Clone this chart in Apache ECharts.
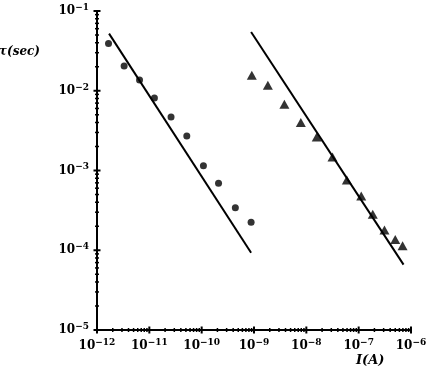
<!DOCTYPE html>
<html>
<head>
<meta charset="utf-8">
<script src="https://cdn.jsdelivr.net/npm/echarts@6/dist/echarts.min.js"></script>
<style>
  html, body { margin: 0; padding: 0; background: #fff; }
  #chart { width: 426px; height: 372px; }
</style>
</head>
<body>
<div id="chart"></div>
<script>
// measured points (circles), I in A, tau in sec
const currentA = [1.66e-12, 3.3e-12, 6.5e-12, 1.25e-11, 2.6e-11, 5.2e-11, 1.08e-10, 2.1e-10, 4.4e-10, 8.8e-10];
const tauA = [0.039, 0.0204, 0.0136, 0.0081, 0.0047, 0.0027, 0.00115, 0.00069, 0.00034, 0.000224];

// measured points (triangles)
const currentB = [9.08e-10, 1.84e-9, 3.81e-9, 7.85e-9, 1.58e-8, 3.16e-8, 5.94e-8, 1.12e-7, 1.86e-7, 3.11e-7, 5.0e-7, 6.9e-7];
const tauB = [0.0156, 0.0117, 0.00678, 0.0040, 0.00264, 0.00148, 0.00076, 0.00048, 0.000282, 0.000179, 0.000136, 0.000114];

// straight fit lines (end points)
const fitCurrentA = [1.7e-12, 8.8e-10];
const fitTauA = [0.052, 9.3e-5];
const fitCurrentB = [8.8e-10, 7.2e-7];
const fitTauB = [0.0546, 6.6e-5];

// axis ranges (decades)
const xDecades = [-12, -11, -10, -9, -8, -7, -6];
const yDecades = [-5, -4, -3, -2, -1];

const xMin = Math.pow(10, xDecades[0]);
const xMax = Math.pow(10, xDecades[xDecades.length - 1]);
const yMin = Math.pow(10, yDecades[0]);
const yMax = Math.pow(10, yDecades[yDecades.length - 1]);

// tick marks on log axes: [x, y, major, isY]
const ticks = [];
xDecades.forEach((d, i) => {
  ticks.push([Math.pow(10, d), yMin, 1, 0]);
  if (i < xDecades.length - 1) {
    for (let k = 2; k <= 9; k++) ticks.push([k * Math.pow(10, d), yMin, 0, 0]);
  }
});
yDecades.forEach((d, i) => {
  ticks.push([xMin, Math.pow(10, d), 1, 1]);
  if (i < yDecades.length - 1) {
    for (let k = 2; k <= 9; k++) ticks.push([xMin, k * Math.pow(10, d), 0, 1]);
  }
});

const zip = (a, b) => a.map((v, i) => [v, b[i]]);

const font = 'DejaVu Serif';

function powLabel(value) {
  const e = Math.round(Math.log10(value));
  return '{b|10}{s|' + (e < 0 ? '\u2212' + (-e) : e) + '}';
}

const labelRich = {
  b: { fontFamily: font, fontWeight: 'bold', fontSize: 12, color: '#000' },
  s: { fontFamily: font, fontWeight: 'bold', fontSize: 9, color: '#000', verticalAlign: 'bottom', padding: [0, 0, 7, 0] }
};

function renderTick(params, api) {
  const p = api.coord([api.value(0), api.value(1)]);
  const major = api.value(2) === 1;
  const len = major ? 3.5 : 2;
  const shape = api.value(3) === 1
    ? { x1: p[0] - len, y1: p[1], x2: p[0] + len, y2: p[1] }
    : { x1: p[0], y1: p[1] - len, x2: p[0], y2: p[1] + len };
  return { type: 'line', shape: shape, style: { stroke: '#000', lineWidth: major ? 2 : 1.5 } };
}

const chart = echarts.init(document.getElementById('chart'));

const option = {
  animation: false,
  backgroundColor: '#fff',
  grid: { left: 97, right: 15, top: 11, bottom: 42, containLabel: false, outerBoundsMode: 'none' },
  xAxis: {
    type: 'log',
    logBase: 10,
    min: xMin,
    max: xMax,
    splitNumber: 6,
    axisLine: { lineStyle: { color: '#000', width: 2 } },
    axisTick: { show: false },
    minorTick: { show: false },
    splitLine: { show: false },
    axisLabel: { margin: 8, formatter: powLabel, rich: labelRich, showMinLabel: true, showMaxLabel: true },
    name: 'I(A)',
    nameLocation: 'end',
    nameGap: -55,
    nameMoveOverlap: false,
    nameTextStyle: {
      fontFamily: font, fontStyle: 'italic', fontWeight: 'bold', fontSize: 13, color: '#000',
      align: 'left', verticalAlign: 'top', padding: [24, 0, 0, 0]
    }
  },
  yAxis: {
    type: 'log',
    logBase: 10,
    min: yMin,
    max: yMax,
    splitNumber: 4,
    axisLine: { lineStyle: { color: '#000', width: 2 } },
    axisTick: { show: false },
    minorTick: { show: false },
    splitLine: { show: false },
    axisLabel: { margin: 8, formatter: powLabel, rich: labelRich, showMinLabel: true, showMaxLabel: true },
    name: '\u03c4(sec)',
    nameLocation: 'end',
    nameGap: -41,
    nameMoveOverlap: false,
    nameTextStyle: {
      fontFamily: font, fontStyle: 'italic', fontWeight: 'bold', fontSize: 12, color: '#000',
      align: 'right', verticalAlign: 'middle', padding: [0, 57, 0, 0]
    }
  },
  series: [
    {
      type: 'custom',
      renderItem: renderTick,
      data: ticks,
      clip: false,
      silent: true,
      z: 5
    },
    {
      type: 'line',
      data: zip(fitCurrentA, fitTauA),
      symbol: 'none',
      lineStyle: { color: '#000', width: 2 }
    },
    {
      type: 'line',
      data: zip(fitCurrentB, fitTauB),
      symbol: 'none',
      lineStyle: { color: '#000', width: 2 }
    },
    {
      type: 'scatter',
      data: zip(currentA, tauA),
      symbol: 'circle',
      symbolSize: 7,
      itemStyle: { color: '#000' }
    },
    {
      type: 'scatter',
      data: zip(currentB, tauB),
      symbol: 'triangle',
      symbolSize: [10, 9],
      itemStyle: { color: '#000' }
    }
  ]
};

chart.setOption(option);
</script>
</body>
</html>
